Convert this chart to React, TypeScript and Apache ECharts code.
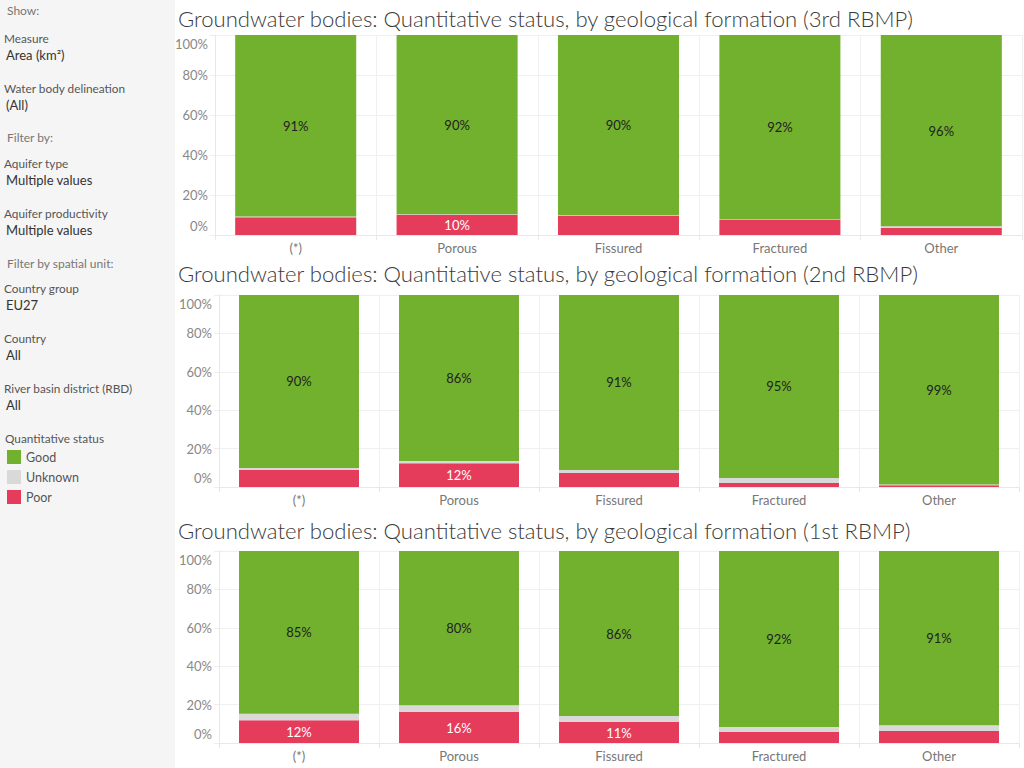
import React, { useEffect, useRef } from "react";
import * as echarts from "echarts";

// Geological formation categories (x axis)
const categories = ["(*)", "Porous", "Fissured", "Fractured", "Other"];

// River basin management plan cycles, one panel each (top to bottom)
const periods = ["3rd RBMP", "2nd RBMP", "1st RBMP"];

// Share of groundwater body area (%) by quantitative status
const good3 = [90.8, 89.6, 90.1, 92.2, 95.6];
const unknown3 = [0.3, 0.3, 0.3, 0.3, 0.9];
const poor3 = [8.9, 10.1, 9.6, 7.5, 3.5];

const good2 = [90.1, 86.4, 91.1, 95.3, 98.7];
const unknown2 = [1.0, 1.2, 1.6, 2.6, 0.4];
const poor2 = [8.9, 12.4, 7.3, 2.1, 0.9];

const good1 = [84.8, 80.3, 86.0, 91.7, 90.7];
const unknown1 = [3.4, 3.6, 3.1, 2.6, 3.1];
const poor1 = [11.8, 16.1, 10.9, 5.7, 6.2];

const statusNames = ["Good", "Unknown", "Poor"];

// Y axis ticks (percent of total area)
const yMin = 0;
const yMax = 100;
const yStep = 20;

// Filter panel entries: [caption, value]
const filterItems: [string, string][] = [
  ["Measure", "Area (km²)"],
  ["Water body delineation", "(All)"],
];
const aquiferItems: [string, string][] = [
  ["Aquifer type", "Multiple values"],
  ["Aquifer productivity", "Multiple values"],
];
const spatialItems: [string, string][] = [
  ["Country group", "EU27"],
  ["Country", "All"],
  ["River basin district (RBD)", "All"],
];

const COLORS: Record<string, string> = {
  Good: "#71b12d",
  Unknown: "#d9d9d9",
  Poor: "#e63c5c",
};

const FONT = "Lato, 'Noto Sans', sans-serif";

export default function App() {
  const ref = useRef<HTMLDivElement>(null);

  useEffect(() => {
    if (!ref.current) return;
    const chart = echarts.init(ref.current, undefined, { renderer: "svg" });

    const panels = [
      { good: good3, unknown: unknown3, poor: poor3 },
      { good: good2, unknown: unknown2, poor: poor2 },
      { good: good1, unknown: unknown1, poor: poor1 },
    ];

    const grids = [
      { left: 215, right: 2, top: 35, height: 200 },
      { left: 219, right: 5, top: 295, height: 192 },
      { left: 219, right: 5, top: 551, height: 192 },
    ];
    const titleY = [18, 273, 530];

    const xAxis = grids.map((_, i) => ({
      type: "category",
      gridIndex: i,
      data: categories,
      axisLine: { show: true, lineStyle: { color: "#e8e8e8" } },
      axisTick: { show: true, length: 5, lineStyle: { color: "#e8e8e8" } },
      splitLine: { show: true, lineStyle: { color: "#f0f0f0" } },
      axisLabel: { color: "#777", fontSize: 13, fontFamily: FONT, margin: 6 },
    }));

    const yAxis = grids.map((_, i) => ({
      type: "value",
      gridIndex: i,
      min: yMin,
      max: yMax,
      interval: yStep,
      axisLine: { show: true, lineStyle: { color: "#e8e8e8" } },
      axisTick: { show: true, length: 5, lineStyle: { color: "#eeeeee" } },
      splitLine: { show: true, lineStyle: { color: "#f0f0f0" } },
      axisLabel: {
        color: "#888",
        fontSize: 13,
        lineHeight: 18,
        fontFamily: FONT,
        margin: 7,
        formatter: (v: number) => `${v}%`,
        verticalAlignMinLabel: "bottom",
        verticalAlignMaxLabel: "top",
      },
    }));

    const series: any[] = [];
    panels.forEach((p, i) => {
      // stacked bottom-to-top: Poor, Unknown, Good
      const stacks: [string, number[]][] = [
        ["Poor", p.poor],
        ["Unknown", p.unknown],
        ["Good", p.good],
      ];
      stacks.forEach(([name, vals]) => {
        series.push({
          type: "bar",
          name,
          xAxisIndex: i,
          yAxisIndex: i,
          stack: `panel${i}`,
          barCategoryGap: "25%",
          itemStyle: { color: COLORS[name] },
          data: vals.map((v) => ({
            value: v,
            label: { show: name !== "Unknown" && v >= 10 },
          })),
          label: {
            position: "inside",
            fontSize: 13,
            fontFamily: FONT,
            color: name === "Poor" ? "#ffffff" : "#222222",
            formatter: (d: any) => `${Math.round(d.value)}%`,
          },
        });
      });
    });

    const graphic: any[] = [];
    // filter side panel
    graphic.push({
      type: "rect",
      shape: { x: 0, y: 0, width: 175, height: 768 },
      style: { fill: "#f5f5f5" },
      silent: true,
    });
    const heading = (text: string, y: number) =>
      graphic.push({
        type: "text",
        x: 7,
        y,
        style: { text, fill: "#777", font: `12px ${FONT}`, verticalAlign: "middle" },
      });
    const entry = (caption: string, value: string, y: number) => {
      graphic.push({
        type: "text",
        x: 4,
        y,
        style: { text: caption, fill: "#555", font: `11.8px ${FONT}`, verticalAlign: "middle" },
      });
      graphic.push({
        type: "text",
        x: 6,
        y: y + 17,
        style: { text: value, fill: "#333", font: `13px ${FONT}`, verticalAlign: "middle" },
      });
    };

    heading("Show:", 10);
    filterItems.forEach(([c, v], k) => entry(c, v, 38 + k * 50));
    heading("Filter by:", 137);
    aquiferItems.forEach(([c, v], k) => entry(c, v, 163 + k * 50));
    heading("Filter by spatial unit:", 263);
    spatialItems.forEach(([c, v], k) => entry(c, v, 288 + k * 50));

    graphic.push({
      type: "text",
      x: 5,
      y: 438,
      style: { text: "Quantitative status", fill: "#555", font: `11.8px ${FONT}`, verticalAlign: "middle" },
    });
    statusNames.forEach((s, k) => {
      const cy = 457 + k * 20;
      graphic.push({
        type: "rect",
        shape: { x: 7, y: cy - 7, width: 14, height: 14 },
        style: { fill: COLORS[s] },
      });
      graphic.push({
        type: "text",
        x: 26,
        y: cy,
        style: { text: s, fill: "#555", font: `12.5px ${FONT}`, verticalAlign: "middle" },
      });
    });

    // panel titles
    periods.forEach((p, i) => {
      graphic.push({
        type: "text",
        x: 178,
        y: titleY[i],
        style: {
          text: `Groundwater bodies: Quantitative status, by geological formation (${p})`,
          fill: "#3a3a3a",
          font: `300 22.1px ${FONT}`,
          verticalAlign: "middle",
        },
      });
    });

    chart.setOption({
      animation: false,
      backgroundColor: "#ffffff",
      grid: grids,
      xAxis,
      yAxis,
      series,
      graphic,
    });

    return () => chart.dispose();
  }, []);

  return (
    <div
      ref={ref}
      style={{ position: "fixed", left: 0, top: 0, width: 1024, height: 768 }}
    />
  );
}
